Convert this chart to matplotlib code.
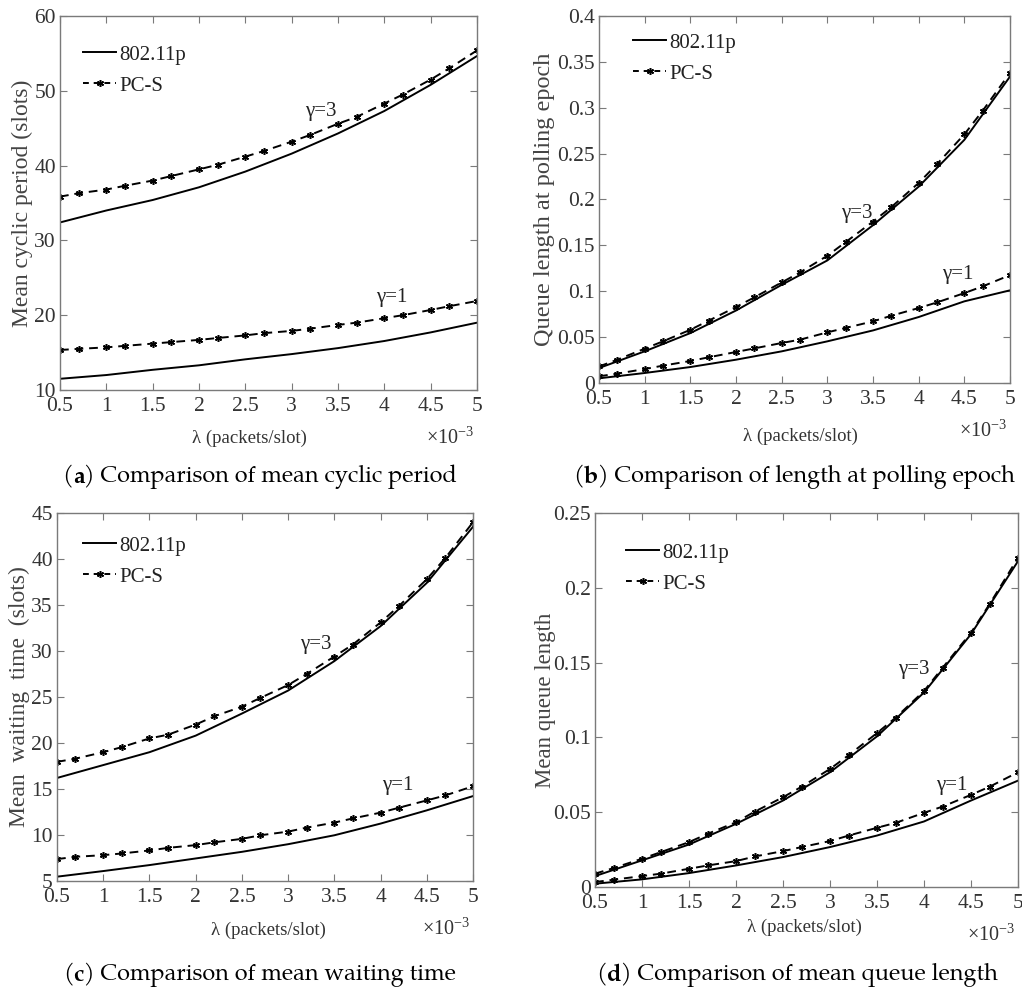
import numpy as np
import matplotlib
matplotlib.use("Agg")
import matplotlib.pyplot as plt
from matplotlib.lines import Line2D

W, H = 1022, 990

# ---------------- data ----------------
x_pcs = [0.5, 0.7, 1.0, 1.2, 1.5, 1.7, 2.0, 2.2, 2.5, 2.7, 3.0, 3.2, 3.5, 3.7, 4.0, 4.2, 4.5, 4.7, 5.0]
x_std = [0.5, 1.0, 1.5, 2.0, 2.5, 3.0, 3.5, 4.0, 4.5, 5.0]

# (a) mean cyclic period
a_pcs_g3 = [35.85, 36.3, 36.8, 37.3, 38.0, 38.6, 39.5, 40.1, 41.2, 41.95, 43.2, 44.1, 45.6, 46.5, 48.3, 49.5, 51.5, 53.0, 55.4]
a_std_g3 = [32.4, 34.0, 35.4, 37.1, 39.2, 41.6, 44.3, 47.3, 50.8, 54.65]
a_pcs_g1 = [15.35, 15.5, 15.7, 15.9, 16.2, 16.4, 16.7, 16.95, 17.3, 17.6, 17.9, 18.2, 18.7, 19.0, 19.6, 20.0, 20.7, 21.2, 21.9]
a_std_g1 = [11.5, 12.0, 12.7, 13.3, 14.1, 14.8, 15.6, 16.55, 17.7, 19.0]

# (b) queue length at polling epoch
b_pcs_g3 = [0.018, 0.0254, 0.0374, 0.0454, 0.058, 0.0679, 0.0828, 0.0933, 0.1096, 0.1205, 0.1387, 0.1535, 0.176, 0.1917, 0.218, 0.2385, 0.271, 0.2966, 0.338]
b_std_g3 = [0.0163, 0.0345, 0.0544, 0.079, 0.107, 0.1336, 0.172, 0.214, 0.265, 0.334]
b_pcs_g1 = [0.0073, 0.0102, 0.0152, 0.0189, 0.024, 0.028, 0.0338, 0.0377, 0.0436, 0.0472, 0.0552, 0.060, 0.0672, 0.0733, 0.0817, 0.0878, 0.098, 0.1053, 0.1176]
b_std_g1 = [0.0051, 0.0109, 0.0174, 0.0254, 0.0345, 0.0454, 0.0573, 0.0719, 0.089, 0.101]

# (c) mean waiting time
c_pcs_g3 = [17.95, 18.3, 19.0, 19.55, 20.5, 20.9, 22.0, 22.9, 23.95, 24.9, 26.3, 27.5, 29.4, 30.7, 33.1, 34.9, 37.8, 40.1, 44.0]
c_std_g3 = [16.2, 17.6, 19.0, 20.8, 23.2, 25.7, 28.9, 32.7, 37.4, 43.5]
c_pcs_g1 = [7.38, 7.63, 7.81, 7.99, 8.32, 8.6, 8.9, 9.2, 9.58, 9.97, 10.37, 10.8, 11.35, 11.8, 12.43, 12.97, 13.76, 14.3, 15.3]
c_std_g1 = [5.47, 6.08, 6.73, 7.45, 8.17, 9.0, 9.97, 11.24, 12.68, 14.23]

# (d) mean queue length
d_pcs_g3 = [0.0089, 0.0127, 0.0189, 0.0233, 0.030, 0.0356, 0.0433, 0.0504, 0.060, 0.0671, 0.0789, 0.0882, 0.1029, 0.1133, 0.131, 0.1467, 0.170, 0.1893, 0.220]
d_std_g3 = [0.0073, 0.0178, 0.0284, 0.0422, 0.0578, 0.0767, 0.1007, 0.130, 0.169, 0.2178]
d_pcs_g1 = [0.0033, 0.0049, 0.0073, 0.0089, 0.0122, 0.0144, 0.0173, 0.0204, 0.024, 0.0267, 0.0307, 0.0344, 0.0396, 0.0429, 0.0496, 0.0538, 0.0616, 0.0671, 0.0767]
d_std_g1 = [0.0022, 0.0051, 0.0093, 0.0144, 0.020, 0.0267, 0.0344, 0.0438, 0.0578, 0.0711]

x_ticks = [0.5, 1, 1.5, 2, 2.5, 3, 3.5, 4, 4.5, 5]
x_ticklabels = ["0.5", "1", "1.5", "2", "2.5", "3", "3.5", "4", "4.5", "5"]

legend_labels = ["802.11p", "PC-S"]
xlabel_text = "λ (packets/slot)"

panels = [
    dict(box=(60, 477, 16, 390), ylim=(10, 60), yticks=[10, 20, 30, 40, 50, 60],
         yticklabels=["10", "20", "30", "40", "50", "60"],
         ylabel="Mean cyclic period (slots)", ylab_x=22, ylab_fs=17,
         data=(a_std_g3, a_pcs_g3, a_std_g1, a_pcs_g1),
         g3=(3.14, 47.2), g1=(3.91, 22.3),
         leg=(83, 57), xlab=(249, 438), cap=(62, 482, "a", "Comparison of mean cyclic period")),
    dict(box=(599, 1010, 16, 383), ylim=(0, 0.4),
         yticks=[0, 0.05, 0.1, 0.15, 0.2, 0.25, 0.3, 0.35, 0.4],
         yticklabels=["0", "0.05", "0.1", "0.15", "0.2", "0.25", "0.3", "0.35", "0.4"],
         ylabel="Queue length at polling epoch", ylab_x=544, ylab_fs=17.5,
         data=(b_std_g3, b_pcs_g3, b_std_g1, b_pcs_g1),
         g3=(3.15, 0.185), g1=(4.26, 0.118),
         leg=(633, 45), xlab=(800, 436), cap=(573, 482, "b", "Comparison of length at polling epoch")),
    dict(box=(57, 473, 513, 881), ylim=(5, 45), yticks=[5, 10, 15, 20, 25, 30, 35, 40, 45],
         yticklabels=["5", "10", "15", "20", "25", "30", "35", "40", "45"],
         ylabel="Mean  waiting  time  (slots)", ylab_x=19, ylab_fs=17,
         data=(c_std_g3, c_pcs_g3, c_std_g1, c_pcs_g1),
         g3=(3.13, 30.7), g1=(4.02, 15.4),
         leg=(83, 548), xlab=(268, 930), cap=(63, 980, "c", "Comparison of mean waiting time")),
    dict(box=(595, 1018, 513, 887), ylim=(0, 0.25), yticks=[0, 0.05, 0.1, 0.15, 0.2, 0.25],
         yticklabels=["0", "0.05", "0.1", "0.15", "0.2", "0.25"],
         ylabel="Mean queue length", ylab_x=545, ylab_fs=16.5,
         data=(d_std_g3, d_pcs_g3, d_std_g1, d_pcs_g1),
         g3=(3.72, 0.1456), g1=(4.13, 0.0678),
         leg=(626, 555), xlab=(804, 927), cap=(596, 980, "d", "Comparison of mean queue length")),
]

SERIF = ["Liberation Serif", "DejaVu Serif"]
CAPFONT = ["TeX Gyre Pagella", "DejaVu Serif"]
plt.rcParams["font.family"] = SERIF
plt.rcParams["mathtext.fontset"] = "custom"
plt.rcParams["mathtext.rm"] = "Liberation Serif"

fig = plt.figure(figsize=(W / 100, H / 100), dpi=100)
fig.patch.set_facecolor("white")

TXT = "#333333"
SPINE = "#7a7a7a"
STAR = (6, 2, 0)
CAPSIZE = 16.9

for p in panels:
    l, r, t, b = p["box"]
    ax = fig.add_axes([l / W, 1 - b / H, (r - l) / W, (b - t) / H])
    std_g3, pcs_g3, std_g1, pcs_g1 = p["data"]
    for ys in (std_g3, std_g1):
        ax.plot(x_std, ys, color="black", lw=1.4, ls="-")
    for ys in (pcs_g3, pcs_g1):
        ax.plot(x_pcs, ys, color="black", lw=1.4, ls=(0, (4.5, 3)),
                marker=STAR, markersize=5, markeredgewidth=1.1)
    ax.set_xlim(0.5, 5)
    ax.set_ylim(*p["ylim"])
    ax.set_xticks(x_ticks)
    ax.set_xticklabels(x_ticklabels)
    ax.set_yticks(p["yticks"])
    ax.set_yticklabels(p["yticklabels"])
    ax.tick_params(direction="in", top=True, right=True, length=5, width=0.8,
                   color=SPINE, labelsize=15.5, labelcolor=TXT)
    ax.tick_params(axis="x", pad=5)
    ax.tick_params(axis="y", pad=3)
    for s in ax.spines.values():
        s.set_color(SPINE)
        s.set_linewidth(1.0)
    ax.set_ylabel(p["ylabel"], fontsize=p["ylab_fs"], color="#444444")
    ax.yaxis.set_label_coords((p["ylab_x"] - l) / (r - l), 0.5)
    ax.yaxis.label.set_va("center")

    ax.text(p["g3"][0], p["g3"][1], "γ=3", fontsize=15, color="#222222", ha="left", va="center")
    ax.text(p["g1"][0], p["g1"][1], "γ=1", fontsize=15, color="#222222", ha="left", va="center")

    # legend
    handles = [Line2D([], [], color="black", lw=1.4, ls="-"),
               Line2D([], [], color="black", lw=1.4, ls=(0, (3, 2.5)), marker=STAR,
                      markersize=5, markeredgewidth=1.1)]
    lx, ly = p["leg"]
    leg = ax.legend(handles, legend_labels, loc="upper left",
                    bbox_to_anchor=((lx - l) / (r - l), 1 - (ly - 12 - t) / (b - t)),
                    frameon=False, fontsize=15, handlelength=1.6, handletextpad=0.15,
                    labelspacing=0.55, borderpad=0, borderaxespad=0)
    for txt in leg.get_texts():
        txt.set_color("#222222")

    # x label and multiplier
    xl, yl = p["xlab"]
    fig.text(xl / W, 1 - yl / H, xlabel_text, fontsize=13.5, color=TXT, ha="center", va="center")
    fig.text((r - 3) / W, 1 - (b + 48) / H, r"$\times10^{-3}$", fontsize=14.5, color=TXT,
             ha="right", va="center")

    # caption with bold letter
    cx, cy, letter, cap = p["cap"]
    t1 = fig.text(cx / W, 1 - cy / H, "(", fontsize=CAPSIZE, family=CAPFONT, va="baseline",
                  ha="left", color="black")
    a1 = plt.annotate(letter, xy=(1, 0), xycoords=t1, va="bottom", ha="left", fontsize=CAPSIZE,
                      family=CAPFONT, fontweight="bold", annotation_clip=False)
    a2 = plt.annotate(") " + cap, xy=(1, 0), xycoords=a1, va="bottom", ha="left", fontsize=CAPSIZE,
                      family=CAPFONT, annotation_clip=False)

fig.savefig("out.png", dpi=100, facecolor="white")
